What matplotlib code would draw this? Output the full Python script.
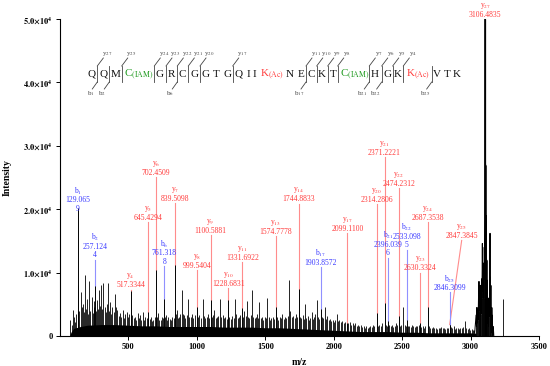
import numpy as np
import matplotlib
matplotlib.use('Agg')
import matplotlib.pyplot as plt
from matplotlib import transforms

plt.rcParams['font.family'] = ['Liberation Serif', 'DejaVu Serif']
plt.rcParams['mathtext.fontset'] = 'stix'

# ---------------- data (intensity in units of 1e4) ----------------
# unlabeled peaks
peak_mz = [75, 88, 93, 103, 112, 120, 134, 142, 151, 158, 166, 174, 183, 189, 195, 203, 214, 222,
           231, 238, 245, 251, 263, 268, 276, 283, 291, 300, 308, 317, 326, 334, 341, 348, 356,
           365, 373, 382, 392, 402, 409, 419, 428, 438, 447, 457, 466, 475, 487, 497, 506, 528,
           538, 548, 557, 567, 575, 584, 594, 604, 614, 624, 634, 654, 663, 672, 682, 692, 710,
           718, 726, 735, 744, 752, 768, 775, 783, 792, 801, 811, 820, 830, 846, 853, 862, 870,
           880, 889, 898, 906, 915, 925, 937, 945, 955, 965, 975, 985, 1008, 1018, 1028, 1042,
           1052, 1062, 1072, 1082, 1090, 1110, 1120, 1128, 1138, 1148, 1158, 1169, 1178, 1188,
           1198, 1208, 1218, 1238, 1248, 1258, 1268, 1279, 1288, 1298, 1308, 1318, 1340, 1347,
           1356, 1364, 1374, 1384, 1394, 1403, 1412, 1422, 1432, 1440, 1448, 1457, 1466, 1476,
           1486, 1496, 1505, 1515, 1524, 1534, 1544, 1554, 1564, 1584, 1594, 1604, 1614, 1624,
           1634, 1644, 1654, 1664, 1676, 1684, 1694, 1704, 1714, 1724, 1733, 1754, 1764, 1774,
           1782, 1790, 1800, 1810, 1820, 1830, 1839, 1848, 1856, 1864, 1875, 1884, 1892, 1912,
           1922, 1936, 1945, 1953, 1962, 1972, 1982, 1992, 2002, 2012, 2022, 2032, 2042, 2052,
           2062, 2072, 2082, 2108, 2118, 2128, 2138, 2148, 2158, 2168, 2178, 2188, 2198, 2208,
           2218, 2228, 2238, 2248, 2258, 2268, 2278, 2288, 2298, 2324, 2334, 2344, 2356, 2380,
           2388, 2406, 2416, 2426, 2436, 2446, 2456, 2466, 2484, 2494, 2509, 2518, 2526, 2542,
           2552, 2562, 2572, 2582, 2592, 2602, 2612, 2620, 2640, 2650, 2660, 2670, 2697, 2707,
           2716, 2726, 2736, 2746, 2756, 2766, 2776, 2786, 2796, 2806, 2816, 2826, 2836, 2856,
           2866, 2876, 2886, 2896, 2906, 2916, 2926, 2936, 2946, 2959, 2968, 2978, 2988, 2998,
           3008, 3018, 3028, 3234]
peak_int = [.26, .18, .41, .30, .22, .35, .80, .40, .70, .45, .51, .38, .96, .42, .59, .35, .86, .40,
            .62, .36, .45, .55, .40, .57, .42, .73, .48, .80, .43, .84, .46, .38, .50, .84, .40,
            .54, .35, .46, .38, .66, .45, .41, .32, .36, .30, .41, .28, .34, .38, .30, .35, .33,
            .28, .30, .25, .36, .28, .33, .26, .38, .25, .30, .28, .27, .30, .24, .25, .30, .30,
            .36, .26, .25, .30, .28, .30, .33, .26, .30, .27, .25, .30, .28, .35, .41, .28, .30,
            .35, .73, .34, .33, .28, .33, .58, .30, .30, .35, .28, .33, .30, .33, .28, .58,
            .32, .28, .30, .35, .28, .30, .33, .41, .28, .30, .32, .59, .30, .33,
            .28, .30, .27, .30, .27, .32, .28, .58, .35, .28, .30, .33, .30, .40,
            .32, .55, .30, .28, .33, .72, .30, .28, .30, .35, .28, .54, .28, .30,
            .26, .30, .28, .60, .30, .26, .28, .30, .27, .30, .26, .30, .28, .35,
            .27, .30, .28, .32, .89, .40, .30, .32, .28, .35, .30, .30, .28, .33,
            .27, .50, .28, .32, .26, .28, .38, .27, .30, .35, .56, .30, .27, .30,
            .28, .46, .27, .32, .25, .27, .24, .26, .22, .25, .35, .23, .25, .22,
            .24, .20, .22, .20, .22, .18, .20, .17, .20, .16, .18, .15, .17, .14,
            .15, .13, .15, .12, .14, .16, .14, .18, .15, .16, .18, .15, .20, .18,
            .16, .17, .15, .18, .14, .16, .20, .17, .16, .18, .45, .17, .15, .15,
            .16, .14, .17, .15, .14, .16, .15, .17, .14, .16, .13, .15, .15, .13,
            .12, .14, .12, .13, .11, .13, .12, .14, .12, .13, .11, .12, .13, .14,
            .12, .15, .11, .12, .13, .11, .12, .13, .14, .24, .12, .11, .12, .10,
            .11, .10, .09, .58]

# dense low-level noise envelope
noise_mz = [70, 80, 100, 150, 200, 300, 400, 500, 600, 700, 800, 900, 1000, 1100, 1200, 1300,
            1400, 1500, 1600, 1700, 1800, 1900, 2000, 2100, 2200, 2300, 2400, 2500, 2600, 2700,
            2800, 2900, 3000, 3040]
noise_int = [0, .06, .12, .15, .17, .18, .18, .17, .16, .16, .15, .15, .15, .15, .14, .14,
             .14, .13, .13, .12, .11, .10, .09, .08, .07, .07, .07, .06, .06, .05,
             .05, .05, .05, .04]

# precursor isotope cluster profile
cluster_mz = [3030, 3040, 3043, 3046, 3049, 3052, 3055, 3058, 3061, 3063, 3066, 3068, 3070, 3072,
              3075, 3077, 3080, 3083, 3086, 3088, 3091, 3093, 3095, 3097, 3100, 3103, 3106, 3108,
              3110, 3112, 3114, 3116, 3118, 3120, 3122, 3125, 3128, 3131, 3134, 3137, 3140, 3142,
              3144, 3147, 3150, 3153, 3156, 3159, 3162, 3166, 3170]
cluster_int = [.05, .33, .15, .45, .20, .41, .25, .62, .86, .40, .70, .45, .80, .30,
               .65, .35, .90, .60, 1.46, .70, 1.05, .80, 1.15, .60, 1.40, .90, 5.00, 1.00,
               2.70, 1.20, 1.90, .50, 1.20, .30, .88, .20, .60, .15, .50, .30, .95, 1.62,
               .30, .80, .10, .45, .05, .33, .02, .15, 0]

# annotated fragment ions
ion_name = ['b1', 'b2', 'y4', 'y5', 'y6', 'b6', 'y7', 'y8', 'y9', 'y10', 'y11', 'y13', 'y14',
            'b17', 'y17', 'y20', 'y21', 'b21', 'y22', 'b22', 'y23', 'y24', 'y25', 'b25', 'y27']
ion_mass = ['129.065\n9', '257.124\n4', '517.3344', '645.4294', '702.4509', '761.318\n8',
            '839.5098', '999.5404', '1100.5881', '1228.6831', '1331.6922', '1574.7778',
            '1744.8833', '1903.8572', '2099.1100', '2314.2806', '2371.2221', '2396.039\n6',
            '2474.2312', '2533.098\n5', '2630.3324', '2687.3538', '2847.3845', '2846.3099',
            '3106.4835']
ion_mz = [129.065, 257.124, 517.33, 645.43, 702.45, 761.32, 839.51, 999.54, 1100.59, 1228.68,
          1331.69, 1574.78, 1744.88, 1903.86, 2099.11, 2314.28, 2371.22, 2396.04, 2474.23,
          2533.10, 2630.33, 2687.35, 2847.38, 2846.31, 3106.48]
ion_int = [2.02, .79, .71, .38, 1.04, .59, 1.12, .46, .56, .56, .44, .45, .74, .43, .21, .37,
           .52, .24, .32, .25, .20, .46, .18, .18, 0]

# label placement (height of the ion name, in 1e4 units) and label x
label_y = [2.28, 1.55, .94, 2.01, 2.72, 1.45, 2.31, 1.25, 1.80, .97, 1.38, 1.79, 2.30, 1.30,
           1.83, 2.29, 3.03, 1.58, 2.54, 1.71, 1.21, 2.01, 1.72, .90, 5.20]
label_x = list(ion_mz)
label_x[22] = 2935

# peptide sequence
residues = ['Q', 'Q', 'M', 'C', 'G', 'R', 'C', 'G', 'G', 'T', 'G', 'Q', 'I', 'I', 'K', 'N', 'E',
            'C', 'K', 'T', 'C', 'H', 'G', 'K', 'K', 'V', 'T', 'K']
mods = {3: 'IAM', 14: 'Ac', 20: 'IAM', 24: 'Ac'}
res_x = [91.7, 103.3, 115.7, 126.7, 159.3, 171.7, 182.7, 194.3, 205.7, 215.7, 227.3, 238.3,
         248.3, 254.3, 263.3, 290, 300.7, 311, 321.7, 332.7, 342.7, 375, 387.7, 397.3, 409.3,
         436.7, 447.3, 456.7]
cut_x = [97.3, 109.3, 121.7, 154.3, 166, 177.3, 188.3, 200, 232.7, 306, 316.7, 327.7, 337.7,
         369.3, 381.7, 392.7, 403.3, 431.7]
cut_y = [27, None, 25, 24, 23, 22, 21, 20, 17, 11, 10, 9, 8, 7, 6, 5, 4, None]
cut_b = [1, 2, None, None, None, 6, None, None, None, 17, None, None, None, 21, 22, None, None, 25]

RED = '#ff3b3b'
RED_L = '#ff8c8c'
BLUE = '#3a3aff'
BLUE_L = '#9090ff'
GREEN = '#1f9a1f'

W, H = 550, 366
fig = plt.figure(figsize=(5.5, 3.66), dpi=100)
ax = fig.add_axes([60 / W, 30 / H, 479 / W, 317 / H])

S = 1e4
ax.fill_between(noise_mz, 0, np.array(noise_int) * S, color='k', lw=0)
ax.vlines(peak_mz, 0, np.array(peak_int) * S, color='k', lw=0.6)
ax.plot(cluster_mz, np.array(cluster_int) * S, color='k', lw=0.7)
ax.vlines(cluster_mz, 0, np.array(cluster_int) * S, color='k', lw=0.5)
ax.vlines(ion_mz, 0, np.array(ion_int) * S, color='k', lw=0.7)
ax.vlines([3106.48], 0, 5.0 * S, color='k', lw=0.9)

# fragment labels
pt_per_px = 72 / 100.
for i in range(len(ion_name)):
    name = ion_name[i]
    col = RED if name[0] == 'y' else BLUE
    lcol = RED_L if name[0] == 'y' else BLUE_L
    x = label_x[i]
    y = label_y[i] * S
    ax.text(x, y, name[0] + '$_{' + name[1:] + '}$', color=col, fontsize=5.5,
            ha='center', va='center', clip_on=False)
    lines = ion_mass[i].split('\n')
    for j, s in enumerate(lines):
        tr = transforms.offset_copy(ax.transData, fig=fig, y=-(9 + 8.5 * j) * pt_per_px,
                                    units='points')
        ax.text(x, y, s, color=col, fontsize=5.5, ha='center', va='center',
                transform=tr, clip_on=False)
    if name == 'y27':
        continue
    top = y - (9 + 8.5 * (len(lines) - 1) + 4.5) * 5 * S / 317
    peak = ion_int[i] * S
    if top > peak:
        ax.plot([x, ion_mz[i]], [top, peak], color=lcol, lw=0.8, zorder=1)

ax.set_xlim(0, 3500)
ax.set_ylim(0, 5 * S)
ax.spines['top'].set_visible(False)
ax.spines['right'].set_visible(False)
for sp in ['left', 'bottom']:
    ax.spines[sp].set_linewidth(0.8)
ax.set_xticks([500, 1000, 1500, 2000, 2500, 3000, 3500])
ax.set_xticklabels(['500', '1000', '1500', '2000', '2500', '3000', '3500'],
                   fontsize=6, fontweight='bold')
ax.set_yticks([0, 1e4, 2e4, 3e4, 4e4, 5e4])
ax.set_yticklabels(['0'] + [r'$\mathbf{%d.0{\times}10^{4}}$' % k for k in range(1, 6)],
                   fontsize=6, fontweight='bold')
ax.tick_params(direction='out', length=3, width=0.7, pad=2)
ax.set_xlabel('m/z', fontsize=7, fontweight='bold', labelpad=5)
ax.set_ylabel('Intensity', fontsize=7, fontweight='bold', labelpad=4)
ax.yaxis.set_label_coords(-0.1, 0.5)


# peptide sequence drawn in figure pixels
def fx(px):
    return px / W


def fy(py):
    return 1 - py / H


SEQ_Y = 74.5
for i, r in enumerate(residues):
    if i in mods:
        col = GREEN if mods[i] == 'IAM' else RED
        fig.text(fx(res_x[i] - 3.2), fy(SEQ_Y), r + r'$_{\rm (' + mods[i] + ')}$', color=col,
                 fontsize=8, ha='left', va='center')
    else:
        fig.text(fx(res_x[i]), fy(SEQ_Y), r, color='#111111', fontsize=8,
                 ha='center', va='center')

GR = '#444444'
for k, xb in enumerate(cut_x):
    fig.add_artist(plt.Line2D([fx(xb), fx(xb)], [fy(66), fy(82)], color=GR, lw=0.6))
    if cut_y[k] is not None:
        fig.add_artist(plt.Line2D([fx(xb), fx(xb + 6)], [fy(66), fy(58)], color=GR, lw=0.6))
        fig.text(fx(xb + 9.5), fy(54), 'y$_{%d}$' % cut_y[k], color=GR, fontsize=5,
                 ha='center', va='center')
    if cut_b[k] is not None:
        fig.add_artist(plt.Line2D([fx(xb), fx(xb - 5)], [fy(82), fy(89)], color=GR, lw=0.6))
        fig.text(fx(xb - 7), fy(93.5), 'b$_{%d}$' % cut_b[k], color=GR, fontsize=5,
                 ha='center', va='center')

fig.savefig('out.png', dpi=100)
